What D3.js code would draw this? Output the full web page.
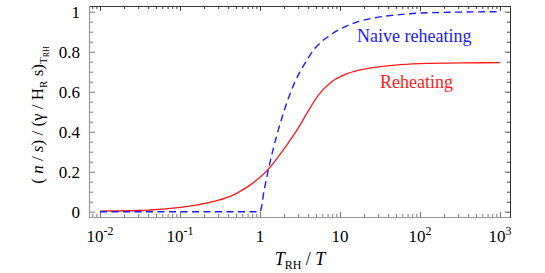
<!DOCTYPE html>
<html><head><meta charset="utf-8">
<script src="https://cdn.jsdelivr.net/npm/d3@7"></script>
</head>
<body style="margin:0">
<svg id="c" width="545" height="273"><text x="-100" y="-100" font-family="Liberation Serif" font-size="17">0</text></svg>
<script>
// ---- data ----
const reheatZ = [0.01, 0.0316, 0.042, 0.1, 0.178, 0.288, 0.51, 0.75, 1, 1.27, 1.95, 3.16, 3.83, 5.37, 7.87, 12.6, 22.4, 49, 100, 316, 1000];
const reheatV = [0.003, 0.006, 0.0085, 0.022, 0.037, 0.055, 0.092, 0.133, 0.172, 0.212, 0.308, 0.433, 0.49, 0.583, 0.65, 0.692, 0.717, 0.733, 0.74, 0.744, 0.745];
const naiveZ = [0.01, 0.1, 0.5, 1, 1.13, 1.27, 2.05, 2.74, 3.65, 4.87, 7.08, 10.5, 16.8, 27.4, 49, 100, 316, 1000];
const naiveV = [0, 0, 0, 0, 0.11, 0.208, 0.517, 0.65, 0.742, 0.817, 0.875, 0.917, 0.95, 0.97, 0.983, 0.993, 0.998, 1.0];
const xTickExps = [-2, -1, 0, 1, 2, 3];
const xTickLabels = [["10","-2"],["10","-1"],["1",""],["10",""],["10","2"],["10","3"]];
const yTicks = [0, 0.2, 0.4, 0.6, 0.8, 1];
const yTickLabels = ["0","0.2","0.4","0.6","0.8","1"];

const FONT = "Liberation Serif";
const svg = d3.select("#c");
const L = 90, R = 510, T = 6, B = 217;
const x = d3.scaleLog().domain([Math.pow(10,-2.125), Math.pow(10,3.125)]).range([L, R]);
const y = d3.scaleLinear().domain([0, 1]).range([211.7, 11.7]);

const xMinor = [];
for (let e = -3; e <= 3; e++) for (let m = 2; m <= 9; m++) {
  const v = m * Math.pow(10, e);
  if (v >= x.domain()[0] && v <= x.domain()[1]) xMinor.push(v);
}
const xMajor = xTickExps.map(e => Math.pow(10, e));
const yMinor = d3.range(0, 21).map(i => i * 0.05).filter(v => Math.abs(v*5 - Math.round(v*5)) > 1e-6);

// texts first
svg.append("g").selectAll("text").data(yTicks).join("text")
  .attr("font-family", FONT)
  .attr("x", 80).attr("y", d => y(d) + 6)
  .attr("text-anchor","end").attr("font-size",17)
  .text((d,i) => yTickLabels[i]);

const xl = svg.append("g").selectAll("text").data(xMajor).join("text")
  .attr("font-family", FONT)
  .attr("x", d => x(d)).attr("y", 242)
  .attr("text-anchor","middle").attr("font-size",17);
xl.each(function(d,i){
  const t = d3.select(this);
  t.append("tspan").text(xTickLabels[i][0]);
  if (xTickLabels[i][1]) t.append("tspan").attr("dy",-7).attr("font-size",12).text(xTickLabels[i][1]);
});

const xt = svg.append("text").attr("font-family", FONT).attr("x", 300).attr("y", 265).attr("text-anchor","middle")
  .attr("font-size",18);
xt.append("tspan").attr("font-style","italic").text("T");
xt.append("tspan").attr("font-size",12).attr("dy",4).text("RH");
xt.append("tspan").attr("dy",-4).text(" / ");
xt.append("tspan").attr("font-style","italic").text("T");

const yt = svg.append("text").attr("font-family", FONT).attr("transform","translate(43,115) rotate(-90)")
  .attr("text-anchor","middle").attr("font-size",17);
yt.append("tspan").text("( ");
yt.append("tspan").attr("font-style","italic").text("n");
yt.append("tspan").text(" / ");
yt.append("tspan").attr("font-style","italic").text("s");
yt.append("tspan").text(")  / (γ / H");
yt.append("tspan").attr("font-size",11).attr("dy",4).text("R");
yt.append("tspan").attr("dy",-4).text("  s)");
yt.append("tspan").attr("font-size",11).attr("dy",4).text("T");
yt.append("tspan").attr("font-size",8).attr("dy",2).text("RH");

svg.append("text").attr("font-family", FONT).attr("x",357).attr("y",42).attr("font-size",18).attr("fill","#1a1aff").text("Naive reheating");
svg.append("text").attr("font-family", FONT).attr("x",380).attr("y",88).attr("font-size",18).attr("fill","#ff1a1a").text("Reheating");

function tickGroup(axisFn, scale, vals, size, tr, color) {
  const g = svg.append("g").attr("transform", tr)
    .call(axisFn(scale).tickValues(vals).tickSize(size).tickFormat(""));
  g.select(".domain").remove();
  g.selectAll("line").attr("stroke", color).attr("stroke-width", 1);
}
tickGroup(d3.axisBottom, x, xMajor, -5, `translate(0,${B})`, "#777");
tickGroup(d3.axisBottom, x, xMinor, -3, `translate(0,${B})`, "#777");
tickGroup(d3.axisTop, x, xMajor, -5, `translate(0,${T})`, "#444");
tickGroup(d3.axisTop, x, xMinor, -3, `translate(0,${T})`, "#444");
tickGroup(d3.axisLeft, y, yTicks, -5, `translate(${L},0)`, "#777");
tickGroup(d3.axisLeft, y, yMinor, -3, `translate(${L},0)`, "#777");
tickGroup(d3.axisRight, y, yTicks, -5, `translate(${R},0)`, "#444");
tickGroup(d3.axisRight, y, yMinor, -3, `translate(${R},0)`, "#444");

svg.append("line").attr("x1",L).attr("x2",R).attr("y1",B+0.5).attr("y2",B+0.5).attr("stroke","#999").attr("stroke-width",1.2);
svg.append("line").attr("x1",L-0.5).attr("x2",L-0.5).attr("y1",T).attr("y2",B+1).attr("stroke","#999").attr("stroke-width",1.2);
svg.append("line").attr("x1",L).attr("x2",R).attr("y1",T+0.5).attr("y2",T+0.5).attr("stroke","#333").attr("stroke-width",1);
svg.append("line").attr("x1",R+0.5).attr("x2",R+0.5).attr("y1",T).attr("y2",B+1).attr("stroke","#333").attr("stroke-width",1);

const line = d3.line().x(d => x(d[0])).y(d => y(d[1])).curve(d3.curveMonotoneX);
svg.append("path").datum(reheatZ.map((z,i)=>[z, reheatV[i]]))
  .attr("d", line).attr("fill","none").attr("stroke","#ff1a1a").attr("stroke-width",1.3);
svg.append("path").datum(naiveZ.map((z,i)=>[z, naiveV[i]]))
  .attr("d", line).attr("fill","none").attr("stroke","#1a1aff").attr("stroke-width",1.4)
  .attr("stroke-dasharray","7,4.5");
</script></body></html>
